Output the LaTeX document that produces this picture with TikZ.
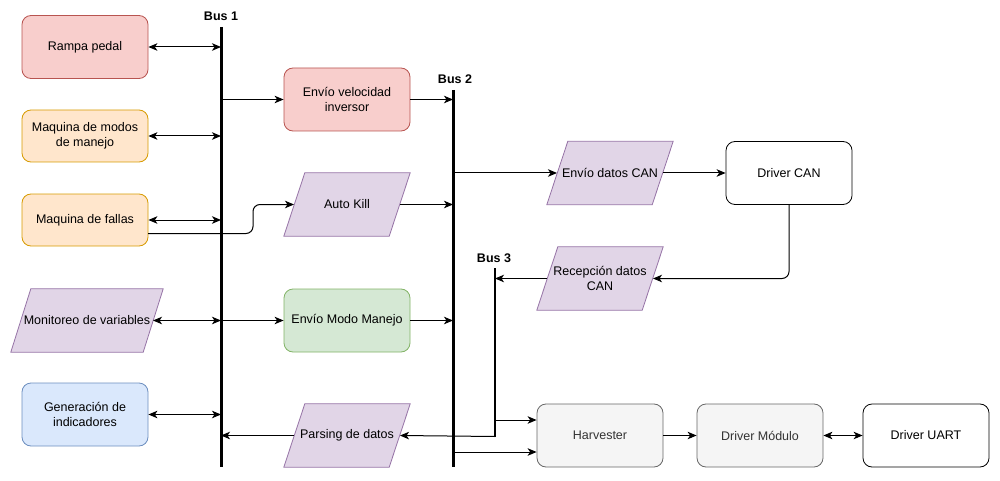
\documentclass[tikz,border=0pt]{standalone}
\usepackage{fontspec}
\setmainfont{Liberation Sans}
\usetikzlibrary{arrows.meta,backgrounds}

\definecolor{redfill}{HTML}{F8CECC}\definecolor{redline}{HTML}{B85450}
\definecolor{orgfill}{HTML}{FFE6CC}\definecolor{orgline}{HTML}{D79B00}
\definecolor{purfill}{HTML}{E1D5E7}\definecolor{purline}{HTML}{9673A6}
\definecolor{grnfill}{HTML}{D5E8D4}\definecolor{grnline}{HTML}{82B366}
\definecolor{blufill}{HTML}{DAE8FC}\definecolor{bluline}{HTML}{6C8EBF}
\definecolor{gryfill}{HTML}{F5F5F5}\definecolor{gryline}{HTML}{666666}
\definecolor{grytext}{HTML}{333333}

\tikzset{
  lbl/.style={align=center, font=\fontsize{12.5}{14.5}\selectfont},
  box/.style={lbl, draw, rounded corners=9pt, minimum width=126pt, minimum height=63pt,
    inner sep=2pt, line width=0.8pt},
  para/.style={lbl, minimum width=126pt, minimum height=63pt, inner sep=0pt},
  parashape/.style={fill=purfill, draw=purline, line width=0.8pt},
  redbox/.style={box, fill=redfill, draw=redline},
  orgbox/.style={box, fill=orgfill, draw=orgline},
  grnbox/.style={box, fill=grnfill, draw=grnline},
  blubox/.style={box, fill=blufill, draw=bluline},
  grybox/.style={box, fill=gryfill, draw=gryline, text=grytext},
  whtbox/.style={box, fill=white, draw=black},
  tip/.tip={Stealth[length=9pt,width=7.5pt,inset=2.5pt]},
  conn/.style={line width=1pt, -tip},
  bconn/.style={line width=1pt, tip-tip},
  bus/.style={line width=3pt},
  buslabel/.style={font=\bfseries\fontsize{12.5}{14}\selectfont, inner sep=0pt}
}

% parallelogram outline behind a node, slanted by #2
\newcommand\slantbox[2]{%
  \begin{scope}[on background layer]
    \path[parashape] (#1.south west) -- ([xshift=#2]#1.north west) -- (#1.north east)
      -- ([xshift=-#2]#1.south east) -- cycle;
  \end{scope}}

\begin{document}
\begin{tikzpicture}[x=1pt,y=-1pt]
\useasboundingbox (0,0) rectangle (1000,481);

% left column
\node[redbox] (rampa)   at (85,47)    {Rampa pedal};
\node[orgbox, minimum height=52pt] (modos) at (85,136) {Maquina de modos\\de manejo};
\node[orgbox, minimum height=52pt] (fallas) at (85,220) {Maquina de fallas};
\node[para, minimum width=152pt] (monit) at (87,320.5) {Monitoreo de variables};
\node[blubox]  (indic)   at (85,414.5) {Generación de\\indicadores};

% middle column
\node[redbox]  (velinv)  at (347,99.5)  {Envío velocidad\\inversor};
\node[para]    (autokill) at (347,204.5) {Auto Kill};
\node[grnbox]  (modoman) at (347,320.5) {Envío Modo Manejo};
\node[para]    (parsing) at (347,435.5) {Parsing de datos};

% right side
\node[para]    (envcan)  at (610,173)   {Envío datos CAN};
\node[whtbox]  (drvcan)  at (789,173)   {Driver CAN};
\node[para]    (reccan)  at (600,278.5) {Recepción datos\\CAN};
\node[grybox]  (harv)    at (600,435.5) {Harvester};
\node[grybox]  (drvmod)  at (760,435.5) {Driver Módulo};
\node[whtbox]  (drvuart) at (926,435.5) {Driver UART};

\slantbox{monit}{20pt}
\slantbox{autokill}{21pt}
\slantbox{parsing}{21pt}
\slantbox{envcan}{21pt}
\slantbox{reccan}{21pt}

% buses
\coordinate (b1t) at (221,27);  \coordinate (b1b) at (221,467);
\coordinate (b2t) at (453,90);  \coordinate (b2b) at (453,467);
\coordinate (b3t) at (495,268); \coordinate (b3b) at (495,436.5);
\draw[bus] (b1t) -- (b1b);
\draw[bus] (b2t) -- (b2b);
\draw[line width=2.2pt] (b3t) -- (b3b);
\node[buslabel] (lb1) at (221,16) {Bus 1};
\node[buslabel] (lb2) at (455,79) {Bus 2};
\node[buslabel] (lb3) at (494,258) {Bus 3};

% left column <-> bus 1
\draw[bconn] (rampa.east) -- (rampa.east -| b1t);
\draw[bconn] (modos.east) -- (modos.east -| b1t);
\draw[bconn] (fallas.east) -- (fallas.east -| b1t);
\coordinate (monr) at (153,320.5);
\draw[bconn] (monr) -- (monr -| b1t);
\draw[bconn] (indic.east) -- (indic.east -| b1t);

% fault machine to auto kill
\coordinate (fk1) at (148,233.5);
\coordinate (akl) at (294,204.5);
\draw[conn, rounded corners=7pt] (fk1) -- (253,233.5) -- (253,204.5) -- (akl);

% bus 1 -> middle column -> bus 2
\coordinate (akr) at (400,204.5);
\coordinate (pal) at (294,435.5);
\coordinate (par) at (400,435.5);
\draw[conn] (velinv.west -| b1t) -- (velinv.west);
\draw[conn] (velinv.east) -- (velinv.east -| b2t);
\draw[conn] (akr) -- (akr -| b2t);
\draw[conn] (modoman.west -| b1t) -- (modoman.west);
\draw[conn] (modoman.east) -- (modoman.east -| b2t);
\draw[conn] (pal) -- (pal -| b1t);

% CAN path
\coordinate (ecl) at (557,173);
\coordinate (ecr) at (663,173);
\coordinate (rcl) at (547,278.5);
\coordinate (rcr) at (653,278.5);
\draw[conn] (ecl -| b2t) -- (ecl);
\draw[conn] (ecr) -- (drvcan.west);
\draw[conn, rounded corners=7pt] (drvcan.south) -- (drvcan.south |- rcr) -- (rcr);
\draw[conn] (rcl) -- (rcl -| b3t);

% bus 3 and harvester chain
\draw[conn] (b3b) -- (par);
\draw[conn] (495,420) -- (harv.west |- 0,420);
\draw[conn] (453,452) -- (harv.west |- 0,452);
\draw[conn] (harv.east) -- (drvmod.west);
\draw[bconn] (drvmod.east) -- (drvuart.west);
\end{tikzpicture}
\end{document}
